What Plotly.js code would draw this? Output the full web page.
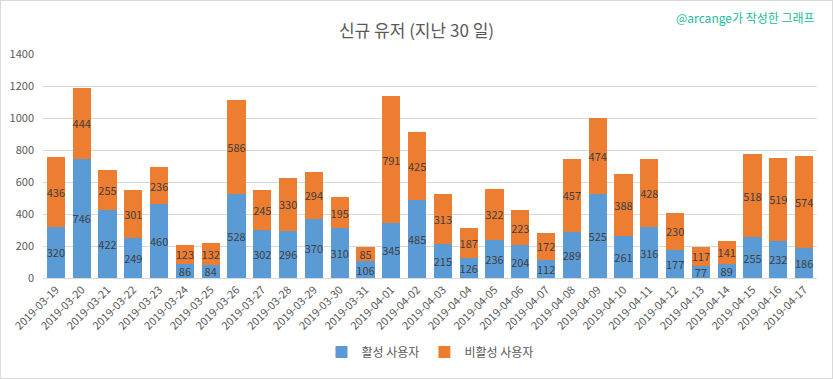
<!DOCTYPE html>
<html>
<head>
<meta charset="utf-8">
<script src="https://cdn.plot.ly/plotly-3.0.1.min.js"></script>
<style>
html,body{margin:0;padding:0;background:#fff;}
#wrap{position:relative;width:833px;height:379px;}
#chart{width:833px;height:379px;}
#frame{position:absolute;left:0;top:0;width:831px;height:377px;border:1px solid #d9d9d9;pointer-events:none;}
</style>
</head>
<body>
<div id="wrap"><div id="chart"></div><div id="frame"></div></div>
<script>
const dates = ["2019-03-19","2019-03-20","2019-03-21","2019-03-22","2019-03-23","2019-03-24","2019-03-25","2019-03-26","2019-03-27","2019-03-28","2019-03-29","2019-03-30","2019-03-31","2019-04-01","2019-04-02","2019-04-03","2019-04-04","2019-04-05","2019-04-06","2019-04-07","2019-04-08","2019-04-09","2019-04-10","2019-04-11","2019-04-12","2019-04-13","2019-04-14","2019-04-15","2019-04-16","2019-04-17"];
const activeUsers = [320,746,422,249,460,86,84,528,302,296,370,310,106,345,485,215,126,236,204,112,289,525,261,316,177,77,89,255,232,186];
const inactiveUsers = [436,444,255,301,236,123,132,586,245,330,294,195,85,791,425,313,187,322,223,172,457,474,388,428,230,117,141,518,519,574];
const seriesNames = ["활성 사용자","비활성 사용자"];
const yTicks = [0,200,400,600,800,1000,1200,1400];

const font = "'Noto Sans CJK KR', 'Noto Sans', sans-serif";
const labelFont = {family: font, size: 11, color: '#404040'};

const traces = [
  {type:'bar', name: seriesNames[0], x: dates, y: activeUsers, text: activeUsers.map(String),
   textposition:'inside', insidetextanchor:'middle', textangle:0, textfont: labelFont,
   marker:{color:'#5B9BD5'}, hoverinfo:'x+y+name'},
  {type:'bar', name: seriesNames[1], x: dates, y: inactiveUsers, text: inactiveUsers.map(String),
   textposition:'inside', insidetextanchor:'middle', textangle:0, textfont: labelFont,
   marker:{color:'#ED7D31'}, hoverinfo:'x+y+name'}
];

const layout = {
  width: 833, height: 379,
  margin: {l: 43, r: 16, t: 54, b: 98},
  barmode: 'stack', bargap: 0.3,
  paper_bgcolor: '#fff', plot_bgcolor: '#fff',
  font: {family: font, color: '#595959'},
  uniformtext: {mode: 'show', minsize: 11},
  title: {text: '신규 유저 (지난 30 일)', font: {family: font, size: 17, color: '#595959'},
          x: 0.5, xanchor: 'center', y: 0.918, yanchor: 'middle'},
  xaxis: {type: 'category', tickangle: -45, tickfont: {family: font, size: 11, color: '#595959'},
          automargin: false,
          showgrid: false, showline: true, linecolor: '#d9d9d9', linewidth: 1, ticks: '', zeroline: false},
  yaxis: {range: [0, 1400], tickvals: yTicks, tickfont: {family: font, size: 11, color: '#595959'},
          automargin: false,
          showgrid: true, gridcolor: '#d9d9d9', zeroline: false, showline: false, ticks: '', ticklen: 0,
          ticklabelstandoff: 8},
  legend: {orientation: 'h', x: 0.5, xanchor: 'center', y: -0.33, yanchor: 'middle',
           itemwidth: 30, font: {family: font, size: 12, color: '#595959'}, traceorder: 'normal'},
  annotations: [{text: '@arcange가 작성한 그래프', xref: 'paper', yref: 'paper', x: 1, xanchor: 'right',
                 y: 1.165, yanchor: 'middle', showarrow: false,
                 font: {family: font, size: 12, color: '#1ABC9C'}}],
  showlegend: true
};

Plotly.newPlot('chart', traces, layout, {displayModeBar: false, staticPlot: true});
</script>
</body>
</html>
